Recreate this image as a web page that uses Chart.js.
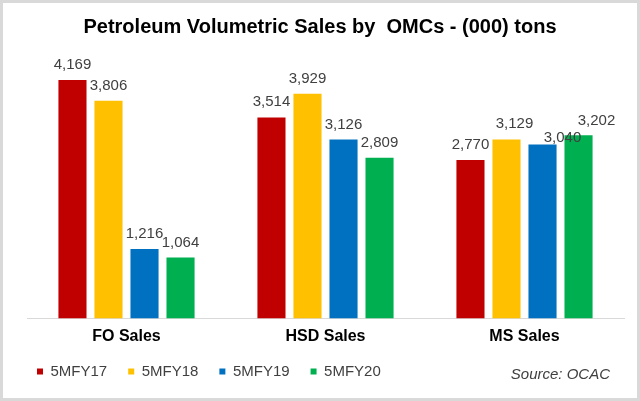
<!DOCTYPE html>
<html>
<head>
<meta charset="utf-8">
<script src="https://cdn.jsdelivr.net/npm/chart.js@4.4.1/dist/chart.umd.min.js"></script>
<style>
html, body { margin: 0; padding: 0; background: #fff; }
#wrap { position: relative; width: 640px; height: 401px; }
#frame { position: absolute; left: 0; top: 0; width: 640px; height: 401px; box-sizing: border-box; border: 3px solid #d9d9d9; pointer-events: none; }
</style>
</head>
<body>
<div id="wrap">
  <canvas id="myChart" width="640" height="401"></canvas>
  <div id="frame"></div>
</div>
<script>
const categories = ['FO Sales', 'HSD Sales', 'MS Sales'];
const seriesNames = ['5MFY17', '5MFY18', '5MFY19', '5MFY20'];
const fy17 = [4169, 3514, 2770];
const fy18 = [3806, 3929, 3129];
const fy19 = [1216, 3126, 3040];
const fy20 = [1064, 2809, 3202];
const colors = ['#c00000', '#ffc000', '#0070c0', '#00b050'];
const sourceText = 'Source: OCAC';

// a few labels were dragged aside in the original ([dataset][point] -> [dx, dy])
const labelNudge = { '1-2': [8, 0], '2-2': [20, 8], '3-2': [18, 1] };

const FONT = '"Liberation Sans", Arial, sans-serif';

const barLabels = {
    id: 'barLabels',
    afterDatasetsDraw(chart) {
        const ctx = chart.ctx;
        ctx.save();
        ctx.font = '15px ' + FONT;
        ctx.fillStyle = '#404040';
        ctx.textAlign = 'center';
        ctx.textBaseline = 'alphabetic';
        chart.data.datasets.forEach((ds, i) => {
            chart.getDatasetMeta(i).data.forEach((bar, j) => {
                const n = labelNudge[i + '-' + j] || [0, 0];
                ctx.fillText(ds.data[j].toLocaleString('en-US'), bar.x + n[0], bar.y - 11 + n[1]);
            });
        });
        ctx.restore();
    }
};

const sourceNote = {
    id: 'sourceNote',
    afterDraw(chart) {
        const ctx = chart.ctx;
        ctx.save();
        ctx.font = 'italic 15px ' + FONT;
        ctx.fillStyle = '#404040';
        ctx.textAlign = 'right';
        ctx.textBaseline = 'middle';
        ctx.fillText(sourceText, chart.width - 30, 375);
        ctx.restore();
    }
};

const ctx = document.getElementById('myChart').getContext('2d');

const myChart = new Chart(ctx, {
    type: 'bar',
    data: {
        labels: categories,
        datasets: [fy17, fy18, fy19, fy20].map((d, i) => ({
            label: seriesNames[i],
            data: d,
            backgroundColor: colors[i],
            categoryPercentage: 0.724,
            barPercentage: 0.78
        }))
    },
    options: {
        responsive: false,
        animation: false,
        layout: { padding: { top: 5, left: 16, right: 16, bottom: 12 } },
        plugins: {
            title: {
                display: true,
                text: 'Petroleum Volumetric Sales by  OMCs - (000) tons',
                color: '#000',
                font: { family: FONT, size: 20, weight: 'bold' },
                padding: { top: 10, bottom: 22 }
            },
            legend: {
                position: 'bottom',
                align: 'start',
                labels: {
                    boxWidth: 6,
                    boxHeight: 6,
                    padding: 21,
                    color: '#404040',
                    font: { family: FONT, size: 15 }
                }
            },
            tooltip: { enabled: false }
        },
        scales: {
            x: {
                grid: { display: false, drawTicks: false },
                border: { display: true, color: '#d9d9d9', width: 1 },
                ticks: { color: '#000', padding: 8, font: { family: FONT, size: 16, weight: 'bold' } },
                afterFit(scale) { scale.height = 24.5; }
            },
            y: {
                min: 0,
                max: 4500,
                grid: { display: false, drawTicks: false },
                border: { display: false },
                ticks: { display: false },
                afterFit(scale) { scale.width = 11; }
            }
        }
    },
    plugins: [barLabels, sourceNote]
});
</script>
</body>
</html>
